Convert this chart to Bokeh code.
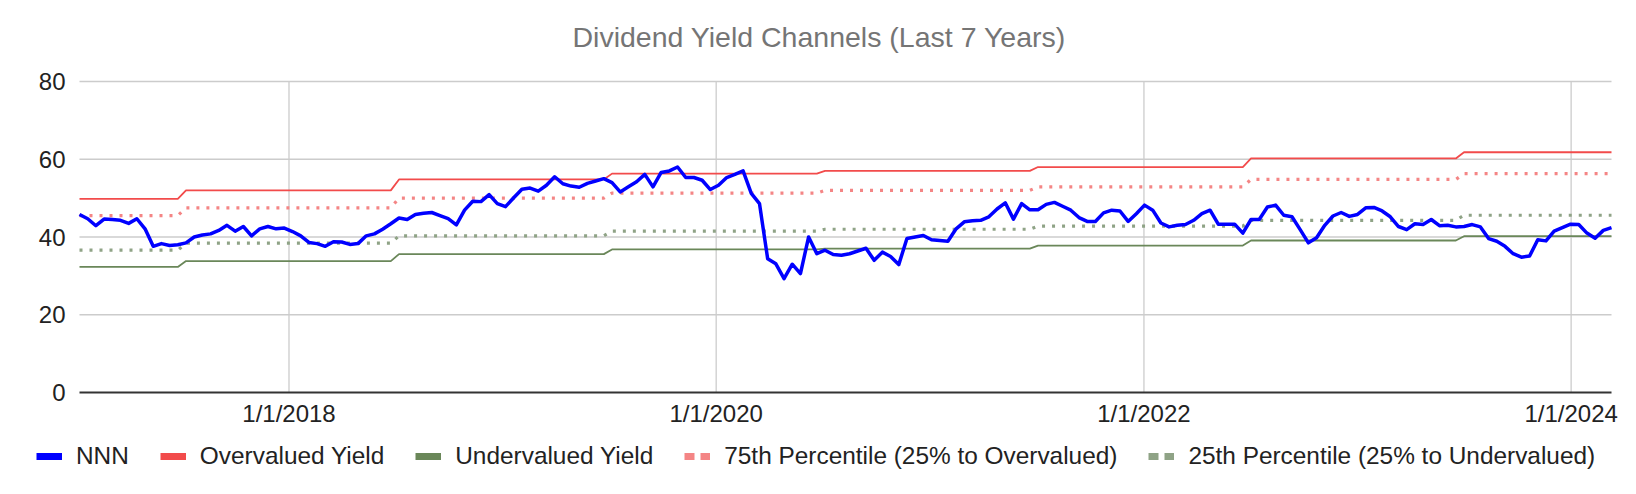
import numpy as np
import pandas as pd
from bokeh.plotting import figure
from bokeh.models import (ColumnDataSource, Legend, LegendItem, FixedTicker,
                          Range1d)
from bokeh.embed import file_html
from bokeh.resources import INLINE

# ---------------- data ----------------
title_text = "Dividend Yield Channels (Last 7 Years)"
start_date = "2017-01-08"       # first observation, then every two weeks
step_days = "14D"

nnn = [
    45.8, 44.7, 42.9, 44.6, 44.5, 44.3, 43.5, 44.7, 42.1, 37.6,
    38.3, 37.8, 38.0, 38.5, 40.0, 40.5, 40.8, 41.7, 43.0, 41.5,
    42.7, 40.3, 42.1, 42.7, 42.1, 42.3, 41.4, 40.3, 38.6, 38.3,
    37.6, 38.8, 38.7, 38.1, 38.3, 40.3, 40.8, 42.0, 43.4, 44.9,
    44.5, 45.8, 46.1, 46.3, 45.5, 44.7, 43.1, 46.9, 49.2, 49.1,
    50.9, 48.6, 47.8, 50.1, 52.3, 52.6, 51.8, 53.3, 55.5, 53.7,
    53.1, 52.8, 53.8, 54.4, 55.0, 54.0, 51.6, 52.9, 54.2, 56.1,
    52.9, 56.6, 57.0, 58.0, 55.3, 55.3, 54.6, 52.2, 53.3, 55.3,
    56.1, 57.0, 51.2, 48.6, 34.4, 33.1, 29.3, 33.0, 30.6, 40.0,
    35.7, 36.6, 35.5, 35.3, 35.7, 36.4, 37.1, 34.0, 36.1, 35.0,
    32.9, 39.6, 40.0, 40.4, 39.3, 39.1, 38.9, 42.1, 43.9, 44.2,
    44.3, 45.2, 47.2, 48.8, 44.6, 48.6, 47.0, 47.0, 48.4, 48.9,
    47.9, 46.9, 45.0, 44.0, 44.0, 46.2, 46.9, 46.7, 44.0, 46.0,
    48.2, 46.9, 43.6, 42.6, 43.0, 43.2, 44.3, 46.0, 46.9, 43.3,
    43.3, 43.3, 41.0, 44.5, 44.5, 47.7, 48.2, 45.6, 45.2, 41.9,
    38.5, 39.8, 43.0, 45.4, 46.3, 45.3, 45.8, 47.5, 47.6, 46.7,
    45.2, 42.7, 41.9, 43.4, 43.2, 44.5, 42.9, 43.0, 42.6, 42.7,
    43.2, 42.6, 39.6, 38.9, 37.6, 35.7, 34.8, 35.1, 39.3, 39.0,
    41.5, 42.4, 43.3, 43.2, 41.0, 39.7, 41.7, 42.4,
]

# yearly channel levels, each valid from the listed date on
channel_periods = ["2016-07-01", "2017-07-01", "2018-07-01", "2019-07-01",
                   "2020-07-01", "2021-07-01", "2022-07-01", "2023-07-01"]
overvalued_levels = [49.8, 52.0, 54.8, 56.3, 57.0, 58.0, 60.2, 61.8]
p75_levels = [45.5, 47.5, 50.0, 51.3, 52.0, 52.9, 54.8, 56.3]
p25_levels = [36.6, 38.4, 40.3, 41.5, 42.0, 42.8, 44.3, 45.6]
undervalued_levels = [32.3, 33.8, 35.6, 36.8, 37.0, 37.8, 39.1, 40.2]

y_ticks = [0, 20, 40, 60, 80]
x_tick_dates = ["2018-01-01", "2020-01-01", "2022-01-01", "2024-01-01"]
x_tick_labels = ["1/1/2018", "1/1/2020", "1/1/2022", "1/1/2024"]

series_names = ["NNN", "Overvalued Yield", "Undervalued Yield",
                "75th Percentile (25% to Overvalued)",
                "25th Percentile (25% to Undervalued)"]

# ---------------- layout (pixels) ----------------
W, H = 1620, 484
TOP = 60                      # frame top (title sits above)
PLOT_L, PLOT_R = 79, 1611     # where the data area starts / ends
PLOT_T, PLOT_B = 81, 392      # pixel rows of y=80 and y=0

# ---------------- build ----------------
dates = pd.date_range(start_date, periods=len(nnn), freq=step_days)
period_starts = pd.to_datetime(channel_periods)
idx = np.searchsorted(period_starts.values, dates.values, side="right") - 1

src = ColumnDataSource(dict(
    date=dates,
    nnn=nnn,
    over=np.array(overvalued_levels)[idx],
    p75=np.array(p75_levels)[idx],
    p25=np.array(p25_levels)[idx],
    under=np.array(undervalued_levels)[idx],
))

t0 = dates[0].value / 1e6
t1 = dates[-1].value / 1e6
mpp = (t1 - t0) / (PLOT_R - PLOT_L)
x_start = t0 - PLOT_L * mpp
x_end = t1 + (W - PLOT_R) * mpp
ymax, ymin = y_ticks[-1], y_ticks[0]
upp = (ymax - ymin) / (PLOT_B - PLOT_T)
y_end = ymax + (PLOT_T - TOP) * upp
y_start = ymin - (H - PLOT_B) * upp

FONT = "Liberation Sans"
C_NNN = "#0000ff"
C_OVER = "#f24b4b"
C_UNDER = "#6a8759"
C_P75 = "#f48585"
C_P25 = "#8fa386"
C_GRID = "#cccccc"

p = figure(width=W, height=H, x_axis_type="datetime",
           output_backend="svg", toolbar_location=None,
           min_border=0, min_border_top=TOP,
           x_range=Range1d(x_start, x_end), y_range=Range1d(y_start, y_end))
p.outline_line_color = None
p.background_fill_color = "white"
p.border_fill_color = "white"
p.xgrid.visible = False
p.ygrid.visible = False

p.title.text = title_text
p.title.align = "left"
p.title.offset = 572
p.title.text_font = FONT
p.title.text_font_size = "28.5px"
p.title.text_font_style = "normal"
p.title.text_color = "#757575"
p.title.standoff = 15

# grid lines limited to the data area
tick_ms = [pd.Timestamp(d).value // 10**6 for d in x_tick_dates]
gy = [v for v in y_ticks if v != ymin]
p.segment(x0=[dates[0]] * len(gy), x1=[dates[-1]] * len(gy), y0=gy, y1=gy,
          line_color=C_GRID, line_width=1.3)
p.segment(x0=pd.to_datetime(x_tick_dates), x1=pd.to_datetime(x_tick_dates),
          y0=[ymin] * len(x_tick_dates), y1=[ymax] * len(x_tick_dates),
          line_color=C_GRID, line_width=1.3)

# axes pinned to the data area
p.xaxis.fixed_location = ymin
p.xaxis.bounds = (t0, t1)
p.xaxis.ticker = FixedTicker(ticks=tick_ms)
p.xaxis.major_label_overrides = {t: lab for t, lab in zip(tick_ms, x_tick_labels)}
p.xaxis.axis_line_color = "#333333"
p.xaxis.axis_line_width = 2
p.xaxis.major_tick_line_color = None
p.xaxis.minor_tick_line_color = None
p.xaxis.major_tick_out = 0
p.xaxis.major_tick_in = 0
p.xaxis.major_label_standoff = 7
p.xaxis.major_label_text_font = FONT
p.xaxis.major_label_text_font_size = "24px"
p.xaxis.major_label_text_color = "#222222"

p.yaxis.fixed_location = t0
p.yaxis.bounds = (ymin, ymax)
p.yaxis.ticker = FixedTicker(ticks=y_ticks)
p.yaxis.axis_line_color = None
p.yaxis.major_tick_line_color = None
p.yaxis.minor_tick_line_color = None
p.yaxis.major_tick_out = 0
p.yaxis.major_tick_in = 0
p.yaxis.major_label_standoff = 14
p.yaxis.major_label_text_font = FONT
p.yaxis.major_label_text_font_size = "24px"
p.yaxis.major_label_text_color = "#222222"

# channel lines
p.line("date", "over", source=src, line_color=C_OVER, line_width=1.8)
p.line("date", "under", source=src, line_color=C_UNDER, line_width=1.8)
p.line("date", "p75", source=src, line_color=C_P75, line_width=3.2,
       line_dash="3 7")
p.line("date", "p25", source=src, line_color=C_P25, line_width=3.2,
       line_dash="3 7")
p.line("date", "nnn", source=src, line_color=C_NNN, line_width=3.5,
       line_join="round")

# legend swatches: renderers with no drawable point, thicker than the lines
def swatch(color, dash="solid"):
    s = ColumnDataSource(dict(x=[dates[0]], y=[np.nan]))
    return p.line("x", "y", source=s, line_color=color, line_width=7,
                  line_dash=dash)

sw = [swatch(C_NNN), swatch(C_OVER), swatch(C_UNDER),
      swatch(C_P75, "10 6"), swatch(C_P25, "10 6")]
legend = Legend(
    items=[LegendItem(label=n, renderers=[r]) for n, r in zip(series_names, sw)],
    orientation="horizontal", location=(36, 14),
    glyph_width=26, glyph_height=22, label_height=22, label_standoff=14,
    spacing=31, padding=0, margin=0,
    border_line_alpha=0, background_fill_alpha=0,
    label_text_font=FONT, label_text_font_size="24.4px",
    label_text_color="#222222",
)
p.add_layout(legend, "center")

open("out.html", "w").write(file_html(p, INLINE))
